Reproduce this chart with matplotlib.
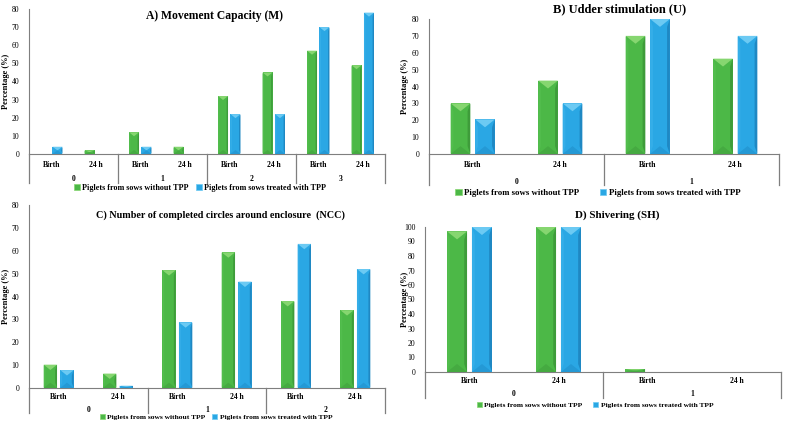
import matplotlib
matplotlib.use("Agg")
import matplotlib.pyplot as plt
from matplotlib.patches import Polygon, Patch
import numpy as np

# ---------------- data ----------------
sub_labels = ["Birth", "24 h"]
series_names = ["Piglets from sows without TPP", "Piglets from sows treated with TPP"]

A_title = "A) Movement Capacity (M)"
A_groups = ["0", "1", "2", "3"]
A_without = [0, 2, 12, 4, 32, 45, 57, 49]
A_with = [4, 0, 4, 0, 22, 22, 70, 78]

B_title = "B) Udder stimulation (U)"
B_groups = ["0", "1"]
B_without = [30, 43.5, 70, 56.5]
B_with = [20.5, 30, 80, 70]

C_title = "C) Number of completed circles around enclosure  (NCC)"
C_groups = ["0", "1", "2"]
C_without = [10.2, 6.3, 51.5, 59.3, 38, 34]
C_with = [7.8, 1.0, 28.7, 46.5, 63, 52]

D_title = "D) Shivering (SH)"
D_groups = ["0", "1"]
D_without = [97, 100, 2, 0]
D_with = [100, 100, 0, 0]

# ---------------- style ----------------
W, H = 786, 426
DPI = 100
FONT = "Liberation Serif"
GREEN = dict(main="#4cb847", light="#86d670", dark="#3e9c3a", bot="#45aa41", side="#52bd4d")
BLUE = dict(main="#2aa7e4", light="#6ccaf3", dark="#1f88c3", bot="#2499d5", side="#35aee8")
AXCOL = "#7f7f7f"

fig = plt.figure(figsize=(W / DPI, H / DPI), dpi=DPI)


def make_ax(left, right, top, bottom):
    return fig.add_axes([left / W, 1 - bottom / H, (right - left) / W, (bottom - top) / H])


def bevel(ax, x0, w, h, col, ax_w_px, ax_h_px, xr, yr):
    if h <= 0:
        return
    ppx = ax_w_px / xr
    ppy = ax_h_px / yr
    w_px = w * ppx
    h_px = h * ppy
    cap_px = min(0.4 * w_px, h_px / 2)
    cap = cap_px / ppy
    s = 0.14 * w
    x1 = x0 + w
    xc = (x0 + x1) / 2
    ax.add_patch(Polygon([[x0, 0], [x1, 0], [x1, h], [x0, h]], closed=True,
                         facecolor=col["main"], edgecolor="none", zorder=3))
    ax.add_patch(Polygon([[x0, 0], [x0 + s, cap], [x0 + s, h - cap], [x0, h]], closed=True,
                         facecolor=col["side"], edgecolor="none", zorder=3))
    ax.add_patch(Polygon([[x1, 0], [x1 - s, cap], [x1 - s, h - cap], [x1, h]], closed=True,
                         facecolor=col["dark"], edgecolor="none", zorder=3))
    ax.add_patch(Polygon([[x0, h], [x1, h], [xc, h - cap]], closed=True,
                         facecolor=col["light"], edgecolor="none", zorder=3))
    ax.add_patch(Polygon([[x0, 0], [x1, 0], [xc, cap]], closed=True,
                         facecolor=col["bot"], edgecolor="none", zorder=3))


def panel(box, title, title_xy, title_size, groups, without, with_, ymax, ystep,
          row1, row2, divbot, legy, ylab_x, legend_fs=6.2, colsp=1.6, legx=None):
    left, right, top, bottom = box
    ax = make_ax(left, right, top, bottom)
    n = len(without)
    ax_w_px = right - left
    ax_h_px = bottom - top
    ax.set_xlim(0, n)
    ax.set_ylim(0, ymax)
    bw = 0.225
    gap = 0.055
    for i in range(n):
        c = i + 0.5
        bevel(ax, c - gap / 2 - bw, bw, without[i], GREEN, ax_w_px, ax_h_px, n, ymax)
        bevel(ax, c + gap / 2, bw, with_[i], BLUE, ax_w_px, ax_h_px, n, ymax)
    for sp in ["top", "right"]:
        ax.spines[sp].set_visible(False)
    for sp in ["left", "bottom"]:
        ax.spines[sp].set_color(AXCOL)
        ax.spines[sp].set_linewidth(0.8)
    ticks = np.arange(0, ymax + 0.1, ystep)
    ax.set_yticks(ticks)
    ax.set_yticklabels([f"{int(v)}" for v in ticks], fontsize=5.5, fontfamily=FONT)
    ax.tick_params(axis="y", length=0, pad=7)
    ax.set_xticks([])
    fy = lambda px: -px / ax_h_px
    tr = ax.get_xaxis_transform()
    for i in range(n):
        ax.text(i + 0.5, fy(row1), sub_labels[i % 2], transform=tr,
                ha="center", va="center", fontsize=5.5, fontweight="bold", fontfamily=FONT)
    ng = len(groups)
    per = n // ng
    for g in range(ng):
        ax.text(g * per + per / 2, fy(row2), groups[g], transform=tr,
                ha="center", va="center", fontsize=5.5, fontweight="bold", fontfamily=FONT)
    for g in range(ng + 1):
        ax.plot([g * per, g * per], [0, fy(divbot)], transform=tr,
                color=AXCOL, lw=0.9, clip_on=False)
    fig.text(title_xy[0] / W, 1 - title_xy[1] / H, title, ha="center", va="center",
             fontsize=title_size, fontweight="bold", fontfamily=FONT)
    fig.text(ylab_x / W, 1 - ((top + bottom) / 2) / H, "Percentage (%)", rotation=90,
             ha="center", va="center", fontsize=6, fontweight="bold", fontfamily=FONT)
    handles = [Patch(facecolor=GREEN["main"], edgecolor=GREEN["light"], lw=0.5),
               Patch(facecolor=BLUE["main"], edgecolor=BLUE["light"], lw=0.5)]
    cx = (left + right) / 2 if legx is None else legx
    fig.legend(handles, series_names, loc="center",
               bbox_to_anchor=(cx / W, 1 - legy / H), ncol=2,
               frameon=False, handlelength=0.7, handleheight=0.7, handletextpad=0.3,
               columnspacing=colsp, borderpad=0,
               prop=dict(family=FONT, weight="bold", size=legend_fs))
    return ax


panel((29, 385, 9, 154), A_title, (215, 16), 8.4, A_groups, A_without, A_with, 80, 10,
      11, 25, 29, 188, 6, legend_fs=5.9, colsp=0.9, legx=200)
panel((429, 779, 19, 154), B_title, (620, 9), 9.0, B_groups, B_without, B_with, 80, 10,
      11, 28, 31, 193, 405, legend_fs=6.3, colsp=2.4, legx=598)
panel((29, 385, 205, 388), C_title, (220, 215), 7.3, C_groups, C_without, C_with, 80, 10,
      9, 22, 25, 417, 6, legend_fs=5.4, colsp=0.9, legx=216)
panel((425, 781, 227, 372), D_title, (617, 215), 7.9, D_groups, D_without, D_with, 100, 10,
      9, 22, 26, 405, 405, legend_fs=5.4, colsp=1.4, legx=595)

fig.savefig("out.png", dpi=DPI)
